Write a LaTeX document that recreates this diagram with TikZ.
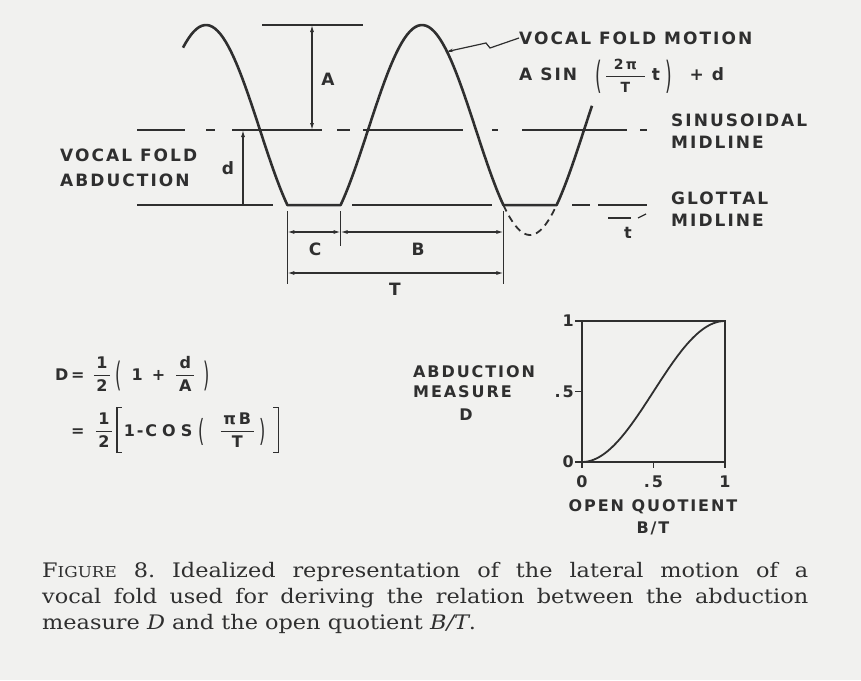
\documentclass[tikz,border=0pt]{standalone}
\usepackage{amsmath}
\usepackage{graphicx}
\usepackage{fontspec}
\setmainfont{DejaVu Serif}[FakeStretch=1.12]
\newfontfamily\leroy{DejaVu Sans}[LetterSpace=12]
\usetikzlibrary{arrows.meta}
\definecolor{ink}{HTML}{2F2F2F}
\definecolor{paper}{HTML}{F1F1EF}
\newcommand\fr[2]{$\genfrac{}{}{1pt}{0}{\text{#1}}{\text{#2}}$}
\newcommand\frs[2]{$\genfrac{}{}{1pt}{0}{\text{\fontsize{14}{14}\selectfont#1}}{\text{\fontsize{14}{14}\selectfont#2}}$}
\newcommand\dl[3]{\raisebox{#2}{\scalebox{1}[#1]{\mdseries#3}}}
\newcommand\lbr{\rlap{\rule[-17pt]{6pt}{1.4pt}}\rlap{\rule[27.6pt]{6pt}{1.4pt}}\rule[-17pt]{1.4pt}{46pt}\hspace{6pt}}
\newcommand\rbr{\hspace{6pt}\rule[-17pt]{1.4pt}{46pt}\llap{\rule[-17pt]{6pt}{1.4pt}}\llap{\rule[27.6pt]{6pt}{1.4pt}}}
\frenchspacing

\begin{document}
\begin{tikzpicture}[x=1pt,y=-1pt,
 wave/.style={ink,line width=2.6pt,line join=round},
 mid/.style={ink,line width=1.6pt},
 dim/.style={ink,line width=1.2pt},
 arr/.style={dim,{Latex[length=7pt,width=4pt]}-{Latex[length=7pt,width=4pt]}},
 lbl/.style={text=ink,inner sep=0pt,font=\leroy\bfseries\fontsize{17}{22}\selectfont},
 small/.style={lbl,font=\leroy\bfseries\fontsize{16}{20}\selectfont},
 eq/.style={lbl,font=\leroy\bfseries\fontsize{16}{18}\selectfont},
 axis/.style={ink,line width=1.8pt}]
 \fill[paper] (0,0) rectangle (861,680); \useasboundingbox (0,0) rectangle (861,680);
 % idealized fold motion
 \draw[wave] plot[domain=183:287.4,samples=40] (\x,{130-105*cos(5/3*(\x-206))})
  -- plot[domain=340.6:503.4,samples=60] (\x,{130-105*cos(5/3*(\x-206))})
  -- plot[domain=556.6:592,samples=15] (\x,{130-105*cos(5/3*(\x-206))});
 \draw[wave,line width=1.8pt,dash pattern=on 7pt off 5pt] plot[domain=503.4:556.6,samples=30] (\x,{130-105*cos(5/3*(\x-206))});
 \foreach \a/\b in {137/185,206/215,232/322,337/350,363/463,492/498,522/627,640/647} \draw[mid] (\a,130) -- (\b,130);
 \foreach \a/\b in {137/273,352/492,572/590,598/647} \draw[mid] (\a,205) -- (\b,205);
 \node[lbl,anchor=west] (motion) at (519,38) {VOCAL FOLD MOTION};
 \node[lbl,anchor=west] (law) at (519,76) {A SIN\hspace{18pt}\dl{2.2}{-7.5pt}{(}\hspace{3pt}\frs{\;\;2\,π\;\;}{T}\hspace{6pt}t\hspace{5pt}\dl{2.2}{-7.5pt}{)}\hspace{18pt}+\hspace{8pt}d};
 \coordinate (hit) at (447,51.6);
 \draw[dim,{Stealth[length=6pt,width=3.5pt]}-] (hit) -- (486,43) -- (490,48) -- (motion.west);
 \node[lbl,anchor=west,align=left] (sinus) at (671,131) {SINUSOIDAL\\MIDLINE};
 \node[lbl,anchor=west,align=left] (glot) at (671,209) {GLOTTAL\\MIDLINE};
 \node[lbl,anchor=west,align=left] (abd) at (60,168) {VOCAL FOLD\\[3pt]ABDUCTION};
 % amplitude and offset
 \draw[mid] (262,25) -- (363,25);
 \coordinate (atop) at (312,25); \coordinate (abot) at (312,130);
 \draw[arr] (atop) -- (abot); \node[lbl] (alab) at (328,79) {A};
 \coordinate (dtop) at (243,130); \coordinate (dbot) at (243,205);
 \draw[dim,-{Latex[length=7pt,width=4pt]}] (dbot) -- (dtop); \node[lbl] (dlab) at (228,168) {d};
 % closed and open phases
 \draw[dim] (287.4,211) -- (287.4,284); \draw[dim] (340.6,211) -- (340.6,246); \draw[dim] (503.4,211) -- (503.4,284);
 \coordinate (c0) at (287.4,232); \coordinate (c1) at (340.6,232); \coordinate (c2) at (503.4,232);
 \coordinate (t0) at (287.4,273); \coordinate (t2) at (503.4,273);
 \draw[arr] (c0) -- (c1); \draw[arr] (c1) -- (c2); \draw[arr] (t0) -- (t2);
 \node[lbl] (clab) at (315,249) {C}; \node[lbl] (blab) at (418,249) {B}; \node[lbl] (tlab) at (395,289) {T};
 \draw[dim] (608,218) -- (631,218); \draw[dim] (638,218) -- (646,214);
 \node[small] (time) at (628,233) {t};
 % relations
 \node[eq,anchor=west] (eq1) at (55,374) {D\,=\hspace{8pt}\fr{\,1\,}{\,2\,}\hspace{4pt}\dl{2.1}{-6.6pt}{(}\hspace{10pt}1\hspace{9pt}+\hspace{10pt}\fr{\,d\,}{\,A\,}\hspace{8pt}\dl{2.1}{-6.6pt}{)}};
 \node[eq,anchor=west] (eq2) at (71,430) {=\hspace{10pt}\fr{\,1\,}{\,2\,}\hspace{3pt}\lbr 1-C\kern5pt O\kern5pt S\hspace{6pt}\dl{1.9}{-5.6pt}{(}\hspace{15pt}\fr{\,π\,B\,}{T}\hspace{5pt}\dl{1.9}{-5.6pt}{)}\hspace{6pt}\rbr};
 % D against B/T
 \draw[axis] (582,321) rectangle (725,462);
 \foreach \y/\t [count=\i] in {321/1,391.5/.5,462/0} {\draw[axis] (575,\y) -- (582,\y); \node[small,anchor=east] (ytick\i) at (574,\y) {\t};}
 \foreach \x/\t [count=\i] in {582/0,653.5/.5,725/1} {\draw[axis] (\x,462) -- (\x,468); \node[small] (xtick\i) at (\x,482) {\t};}
 \draw[axis] plot[domain=0:1,samples=50] ({582+143*\x},{462-70.5*(1-cos(180*\x))});
 \node[small] (oq) at (653,507) {OPEN QUOTIENT}; \node[small] (bt) at (653,528) {B/T};
 \node[small,anchor=west,align=left] (am) at (413,382) {ABDUCTION\\MEASURE}; \node[small] (dd) at (466,415) {D};
 % caption
 \node[anchor=north west,inner sep=0pt,text=ink,align=left,font=\fontsize{20}{26}\selectfont] (cap) at (42,562)
  {\makebox[766pt][s]{F{\fontsize{15}{15}\selectfont IGURE} 8. Idealized representation of the lateral motion of a}\\
   \makebox[766pt][s]{vocal fold used for deriving the relation between the abduction}\\
   measure \textit{D} and the open quotient \textit{B/T}.};
\end{tikzpicture}
\end{document}
